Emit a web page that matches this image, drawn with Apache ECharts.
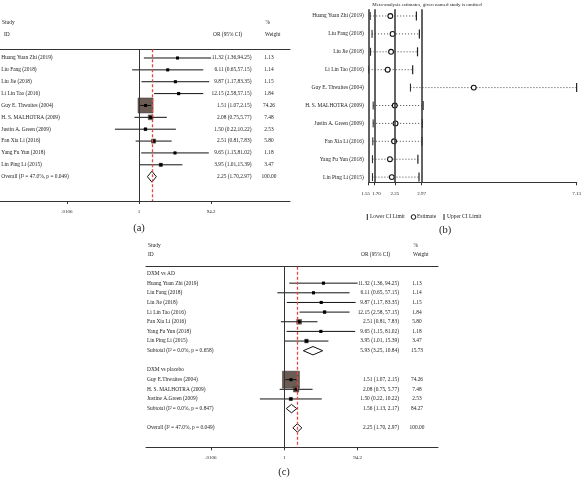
<!DOCTYPE html>
<html><head><meta charset="utf-8">
<script src="https://cdn.jsdelivr.net/npm/echarts@6/dist/echarts.min.js"></script>
<style>html,body{margin:0;padding:0;background:#fff}#c{width:584px;height:481px}</style>
</head><body><div id="c"></div>
<script>
// ---------- DATA ----------
const studies = ['Huang Yuan Zhi (2019)', 'Liu Fang (2018)', 'Liu Jie (2018)', 'Li Lin Tao (2016)',
  'Guy E. Thwaites (2004)', 'H. S. MALHOTRA (2009)', 'Justin A. Green (2009)', 'Fan Xia Li (2016)',
  'Yang Fu Yun (2018)', 'Lin Ping Li (2015)'];
const studiesC = ['Huang Yuan Zhi (2019)', 'Liu Fang (2018)', 'Liu Jie (2018)', 'Li Lin Tao (2016)',
  'Guy E.Thwaites (2004)', 'H. S. MALHOTRA (2009)', 'Justine A.Green (2009)', 'Fan Xia Li (2016)',
  'Yang Fu Yun (2018)', 'Lin Ping Li (2015)'];
const orVals  = [11.32, 6.11, 9.87, 12.15, 1.51, 2.08, 1.50, 2.51, 9.65, 3.95];
const ciLow   = [1.36, 0.65, 1.17, 2.58, 1.07, 0.75, 0.22, 0.81, 1.15, 1.01];
const ciHigh  = [94.25, 57.15, 83.35, 57.15, 2.15, 5.77, 10.22, 7.83, 81.02, 15.39];
const weights = [1.13, 1.14, 1.15, 1.84, 74.26, 7.48, 2.53, 5.80, 1.18, 3.47];
const overallVals = [2.25, 1.70, 2.97];       // OR, lower, upper
const overallWeight = 100.00;
const overallHet = ['47.0%', '0.049'];        // I², p
const subgroupNames = ['DXM vs AD', 'DXM vs placebo'];
const subgroupMembers = [[0, 1, 2, 3, 7, 8, 9], [4, 5, 6]];
const subgroupOR = [5.93, 1.56];
const subgroupLow = [3.25, 1.13];
const subgroupHigh = [10.84, 2.17];
const subgroupWeight = [15.73, 84.27];
const subgroupI2 = ['0.0%', '0.0%'];
const subgroupP = ['0.658', '0.847'];
const omitEst  = [2.13, 2.19, 2.15, 2.06, 4.37, 2.25, 2.27, 2.23, 2.12, 2.17];
const omitLow  = [1.59, 1.64, 1.60, 1.55, 2.67, 1.67, 1.67, 1.66, 1.65, 1.65];
const omitHigh = [2.83, 2.91, 2.86, 2.73, 7.13, 3.01, 2.99, 2.98, 2.87, 2.90];
const forestTicks = [0.0106, 1, 94.2];
const forestTickLabels = ['.0106', '1', '94.2'];
const sensTicks = [1.55, 1.70, 2.25, 2.97, 7.13];

// ---------- BUILD ROWS ----------
const FF = '"Liberation Serif", "Times New Roman", serif';
const font = (px) => px + 'px ' + FF;
const TXT = '#222';

const rowsA = studies.map((s, i) => ({type: 'study', label: s, or: orVals[i], lo: ciLow[i], hi: ciHigh[i], w: weights[i], row: i}));
rowsA.push({type: 'diamond', label: 'Overall (I\u00B2 = ' + overallHet[0] + ', p = ' + overallHet[1] + ')',
  or: overallVals[0], lo: overallVals[1], hi: overallVals[2], w: overallWeight, row: studies.length});

const rowsC = [];
let rr = 0;
subgroupNames.forEach((g, gi) => {
  rowsC.push({type: 'header', label: g, row: rr++});
  subgroupMembers[gi].forEach(i => rowsC.push({type: 'study', label: studiesC[i], or: orVals[i], lo: ciLow[i], hi: ciHigh[i], w: weights[i], row: rr++}));
  rowsC.push({type: 'diamond', label: 'Subtotal (I\u00B2 = ' + subgroupI2[gi] + ', p = ' + subgroupP[gi] + ')',
    or: subgroupOR[gi], lo: subgroupLow[gi], hi: subgroupHigh[gi], w: subgroupWeight[gi], row: rr++});
  rr++;
});
rowsC.push({type: 'diamond', label: 'Overall (I\u00B2 = ' + overallHet[0] + ', p = ' + overallHet[1] + ')',
  or: overallVals[0], lo: overallVals[1], hi: overallVals[2], w: overallWeight, row: rr});

const rowsB = studies.map((s, i) => ({label: s, est: omitEst[i], lo: omitLow[i], hi: omitHigh[i], row: i}));

function forestRender(rows, cfg) {
  return function (params, api) {
    const r = rows[params.dataIndex];
    const cs = params.coordSys;
    const y = api.coord([0, r.row])[1];
    const kids = [];
    const txt = (text, x, align, yy) => ({type: 'text', silent: true, style: {text: text, x: x, y: yy == null ? y : yy, fill: TXT,
      font: font(cfg.fs), textAlign: align, textVerticalAlign: 'middle'}});
    kids.push(txt(r.label, cs.x + cfg.nameX, 'left'));
    if (r.type !== 'header') {
      const xc = api.coord([Math.log(r.or), r.row])[0];
      const xl = api.coord([Math.log(r.lo), r.row])[0];
      const xh = api.coord([Math.log(r.hi), r.row])[0];
      if (r.type === 'study') {
        const s = cfg.boxK * Math.sqrt(r.w);
        kids.push({type: 'rect', shape: {x: xc - s / 2, y: y - s / 2, width: s, height: s}, style: {fill: '#6a5b55', stroke: '#3a302c', lineWidth: 0.5}});
        kids.push({type: 'line', shape: {x1: xl, y1: y, x2: xh, y2: y}, style: {stroke: '#111', lineWidth: 1}});
        kids.push({type: 'rect', shape: {x: xc - 1.5, y: y - 1.5, width: 3, height: 3}, style: {fill: '#000'}});
      } else {
        kids.push({type: 'polygon', shape: {points: [[xl, y], [xc, y - cfg.dh], [xh, y], [xc, y + cfg.dh]]},
          style: {fill: 'none', stroke: '#111', lineWidth: 1}});
      }
      const t = r.or.toFixed(2) + ' (' + r.lo.toFixed(2) + ',' + cfg.sep + r.hi.toFixed(2) + ')';
      kids.push(txt(t, cs.x + cfg.orX, 'right'));
      kids.push(txt(r.w.toFixed(2), cs.x + cfg.wX, 'center'));
    }
    return {type: 'group', children: kids};
  };
}

function sensRender(params, api) {
  const r = rowsB[params.dataIndex];
  const cs = params.coordSys;
  const y = api.coord([r.est, r.row])[1];
  const xe = api.coord([r.est, r.row])[0];
  const xl = api.coord([r.lo, r.row])[0];
  const xh = api.coord([r.hi, r.row])[0];
  return {type: 'group', children: [
    {type: 'line', shape: {x1: xl, y1: y, x2: xh, y2: y}, style: {stroke: '#444', lineWidth: 1, lineDash: [1, 2]}},
    {type: 'line', shape: {x1: xl, y1: y - 4, x2: xl, y2: y + 4}, style: {stroke: '#222', lineWidth: 1}},
    {type: 'line', shape: {x1: xh, y1: y - 4.5, x2: xh, y2: y + 4.5}, style: {stroke: '#222', lineWidth: 1.2}},
    {type: 'circle', shape: {cx: xe, cy: y, r: 2.4}, style: {fill: '#fff', stroke: '#111', lineWidth: 1.1}},
    {type: 'text', silent: true, style: {text: r.label, x: cs.x - 5, y: y, fill: TXT, font: font(5.4), textAlign: 'right', textVerticalAlign: 'middle'}}
  ]};
}

const forestFmt = (v) => {
  const i = forestTicks.findIndex(t => Math.abs(Math.log(t) - v) < 1e-6);
  return i >= 0 ? forestTickLabels[i] : '';
};
const lineOnlyAxis = (gi) => ({type: 'value', gridIndex: gi, position: 'top', min: 0, max: 1,
  axisLine: {show: true, onZero: false, lineStyle: {color: '#333', width: 1}}, axisTick: {show: false}, axisLabel: {show: false}, splitLine: {show: false}});
const forestAxis = (gi, min, max) => ({type: 'value', gridIndex: gi, position: 'bottom', min: min, max: max,
  axisLine: {show: true, onZero: false, lineStyle: {color: '#333', width: 1}},
  axisTick: {show: true, customValues: forestTicks.map(Math.log), length: 3, lineStyle: {color: '#333'}},
  axisLabel: {show: true, customValues: forestTicks.map(Math.log), formatter: forestFmt, margin: 8, color: TXT, fontFamily: FF, fontSize: 5},
  splitLine: {show: false}});
const hiddenY = (gi, min, max) => ({type: 'value', gridIndex: gi, inverse: true, min: min, max: max, show: false});

const gText = (text, x, y, size, align) => ({type: 'text', x: x, y: y, silent: true,
  style: {text: text, fill: TXT, font: font(size), textAlign: align || 'left', textVerticalAlign: 'middle'}});

const option = {
  animation: false,
  backgroundColor: '#fff',
  grid: [
    {left: 0, top: 49.3, width: 290, height: 151.7},
    {left: 368.7, top: 9.3, width: 211.6, height: 173},
    {left: 146, top: 266.7, width: 292, height: 180.6}
  ],
  xAxis: [
    forestAxis(0, -8.753, 9.509),
    lineOnlyAxis(0),
    {type: 'value', gridIndex: 1, min: sensTicks[0], max: sensTicks[sensTicks.length - 1],
      axisLine: {show: true, onZero: false, lineStyle: {color: '#333', width: 1.2}},
      axisTick: {show: true, customValues: sensTicks, length: 3, lineStyle: {color: '#333'}},
      axisLabel: {show: true, customValues: sensTicks, margin: 9, color: TXT, fontFamily: FF, fontSize: 5,
        formatter: (v) => {
          const i = sensTicks.findIndex(t => Math.abs(t - v) < 1e-6);
          const s = v.toFixed(2);
          return i === 0 ? '{l|' + s + '}' : (i === 1 ? '{r|' + s + '}' : s);
        },
        rich: {l: {padding: [0, 6, 0, 0], fontSize: 5, fontFamily: FF, color: TXT}, r: {padding: [0, 0, 0, 4], fontSize: 5, fontFamily: FF, color: TXT}}},
      splitLine: {show: false}},
    forestAxis(2, -8.574, 9.529),
    lineOnlyAxis(2)
  ],
  yAxis: [
    hiddenY(0, -0.733, 12.05),
    hiddenY(1, -0.374, 9.29),
    hiddenY(2, -0.705, 18.01)
  ],
  series: [
    // panel (a): reference line at OR = 1
    {type: 'line', xAxisIndex: 0, yAxisIndex: 0, data: [], z: 1, silent: true,
      markLine: {symbol: ['none', 'none'], silent: true, label: {show: false}, animation: false,
        data: [{xAxis: 0, lineStyle: {color: '#333', type: 'solid', width: 1}}]}},
    {type: 'custom', xAxisIndex: 0, yAxisIndex: 0, z: 3, clip: false,
      renderItem: forestRender(rowsA, {fs: 5.4, nameX: 1.3, orX: 251.5, wX: 269, boxK: 1.74, dh: 5.5, sep: ''}),
      data: rowsA.map(r => [Math.log(r.or), r.row])},
    {type: 'line', xAxisIndex: 0, yAxisIndex: 0, data: [], z: 5, silent: true,
      markLine: {symbol: ['none', 'none'], silent: true, label: {show: false}, animation: false,
        data: [{xAxis: Math.log(overallVals[0]), lineStyle: {color: '#e5473e', type: [3, 2], width: 1.3}}]}},
    // panel (b)
    {type: 'line', xAxisIndex: 2, yAxisIndex: 1, data: [], z: 1, silent: true,
      markLine: {symbol: ['none', 'none'], silent: true, label: {show: false}, animation: false,
        lineStyle: {color: '#3c3c3c', type: 'solid', width: 1.6},
        data: [{xAxis: sensTicks[0]}, {xAxis: overallVals[1]}, {xAxis: overallVals[0]}, {xAxis: overallVals[2]}]}},
    {type: 'custom', xAxisIndex: 2, yAxisIndex: 1, z: 3, clip: false, renderItem: sensRender,
      data: rowsB.map(r => [r.est, r.row])},
    // panel (c)
    {type: 'line', xAxisIndex: 3, yAxisIndex: 2, data: [], z: 1, silent: true,
      markLine: {symbol: ['none', 'none'], silent: true, label: {show: false}, animation: false,
        data: [{xAxis: 0, lineStyle: {color: '#333', type: 'solid', width: 1}}]}},
    {type: 'custom', xAxisIndex: 3, yAxisIndex: 2, z: 3, clip: false,
      renderItem: forestRender(rowsC, {fs: 5.4, nameX: 1, orX: 253, wX: 271, boxK: 1.97, dh: 4.2, sep: ' '}),
      data: rowsC.map(r => [r.type === 'header' ? 0 : Math.log(r.or), r.row])},
    {type: 'line', xAxisIndex: 3, yAxisIndex: 2, data: [], z: 5, silent: true,
      markLine: {symbol: ['none', 'none'], silent: true, label: {show: false}, animation: false,
        data: [{xAxis: Math.log(overallVals[0]), lineStyle: {color: '#e5473e', type: [3, 2], width: 1.3}}]}}
  ],
  graphic: [
    // panel (a) headers
    gText('Study', 2, 23, 5.4), gText('ID', 4, 34.5, 5.4),
    gText('OR (95% CI)', 213, 34.5, 5.4), gText('%', 265.5, 23, 5.4), gText('Weight', 265, 34.5, 5.4),
    gText('(a)', 139, 228, 10.5, 'center'),
    // panel (b)
    gText('Meta-analysis estimates, given named study is omitted', 427, 4.5, 5, 'center'),
    {type: 'line', silent: true, shape: {x1: 367.3, y1: 214, x2: 367.3, y2: 220}, style: {stroke: '#222', lineWidth: 1}},
    gText('Lower CI Limit', 370, 217, 5.5),
    {type: 'circle', silent: true, shape: {cx: 413.5, cy: 217, r: 2.3}, style: {fill: '#fff', stroke: '#111', lineWidth: 1}},
    gText('Estimate', 417, 217, 5.5),
    {type: 'line', silent: true, shape: {x1: 444, y1: 214, x2: 444, y2: 220}, style: {stroke: '#222', lineWidth: 1}},
    gText('Upper CI Limit', 447, 217, 5.5),
    gText('(b)', 445, 230, 10.5, 'center'),
    // panel (c) headers
    gText('Study', 148, 246, 5.4), gText('ID', 148, 254.7, 5.4),
    gText('OR (95% CI)', 361, 255, 5.4), gText('%', 413.5, 245.5, 5.4), gText('Weight', 413, 255, 5.4),
    gText('(c)', 284, 472, 10.5, 'center')
  ]
};

const chart = echarts.init(document.getElementById('c'), null, {renderer: 'canvas'});
chart.setOption(option);
</script>
</body></html>
